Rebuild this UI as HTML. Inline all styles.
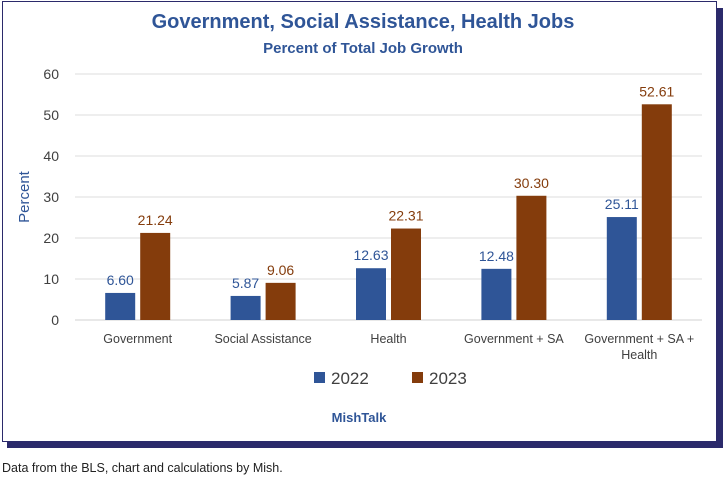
<!DOCTYPE html>
<html><head><meta charset="utf-8"><style>
body{margin:0;width:726px;height:480px;background:#fff;font-family:"Liberation Sans",sans-serif;overflow:hidden;position:relative}
#shadow{position:absolute;left:7px;top:8px;width:716px;height:440px;background:#2b2a6b}
#box{position:absolute;left:2px;top:1px;width:713px;height:439px;background:#fff;border:1px solid #2b2a6b}
#cap{position:absolute;left:2px;top:461px;font-size:12.5px;color:#222}
svg{position:absolute;left:0;top:0}
</style></head><body>
<div id="shadow"></div>
<div id="box"></div>
<svg id="chart" width="726" height="480"></svg>
<div id="cap">Data from the BLS, chart and calculations by Mish.</div>
<script>
const categories=[["Government"],["Social Assistance"],["Health"],["Government + SA"],["Government + SA +","Health"]];
const values2022=[6.60,5.87,12.63,12.48,25.11];
const values2023=[21.24,9.06,22.31,30.30,52.61];
const ticks=[0,10,20,30,40,50,60];
const seriesNames=["2022","2023"];
const colors=["#2f5597","#843c0c"];
const svg=document.getElementById('chart');
const NS="http://www.w3.org/2000/svg";
const x0=75,x1=702,y0=320,yTop=74,vmax=60;
const y=v=>y0-(v/vmax)*(y0-yTop);
const bw=(x1-x0)/categories.length;
const cx=i=>x0+bw*(i+0.5);
function el(t,a,txt){const e=document.createElementNS(NS,t);for(const k in a)e.setAttribute(k,a[k]);if(txt!==undefined)e.textContent=txt;svg.appendChild(e);return e;}
let e;
e=el('text',{x:363,y:28,'text-anchor':'middle','font-size':20,'font-weight':'bold',fill:'#2f5597'},'Government, Social Assistance, Health Jobs');


e=el('text',{x:363,y:53,'text-anchor':'middle','font-size':15,'font-weight':'bold',fill:'#2f5597'},'Percent of Total Job Growth');


ticks.forEach(t=>{
 e=el('line',{x1:x0,x2:x1,y1:y(t),y2:y(t),stroke:t===0?'#d0d0d0':'#dcdcdc','stroke-width':1});
 
 
 e=el('text',{x:59,y:y(t)+5,'text-anchor':'end','font-size':14,fill:'#404040'},String(t));
 
 
});
e=el('text',{x:29,y:y(30),'text-anchor':'middle','font-size':15,fill:'#2f5597',transform:`rotate(-90 29 ${y(30)})`},'Percent');


const w=30,gap=5;
[values2022,values2023].forEach((vals,s)=>{
 vals.forEach((v,i)=>{
  const bx=s===0?cx(i)-gap/2-w:cx(i)+gap/2;
  e=el('rect',{x:bx,y:y(v),width:w,height:y0-y(v),fill:colors[s]});
  
  
  e=el('text',{x:bx+w/2,y:y(v)-8,'text-anchor':'middle','font-size':14,fill:colors[s]},v.toFixed(2));
  
  
 });
});
categories.forEach((c,i)=>{
 c.forEach((line,j)=>{
  e=el('text',{x:cx(i),y:343+j*16,'text-anchor':'middle','font-size':12.5,fill:'#404040'},line);
  
  
 });
});
const lx=[314,412];
seriesNames.forEach((n,s)=>{
 e=el('rect',{x:lx[s],y:372,width:11,height:11,fill:colors[s]});
 
 
 e=el('text',{x:lx[s]+17,y:384,'font-size':17,fill:'#404040'},n);
 
 
});
e=el('text',{x:359,y:422,'text-anchor':'middle','font-size':13,'font-weight':'bold',fill:'#2f5597'},'MishTalk');


</script>
</body></html>
